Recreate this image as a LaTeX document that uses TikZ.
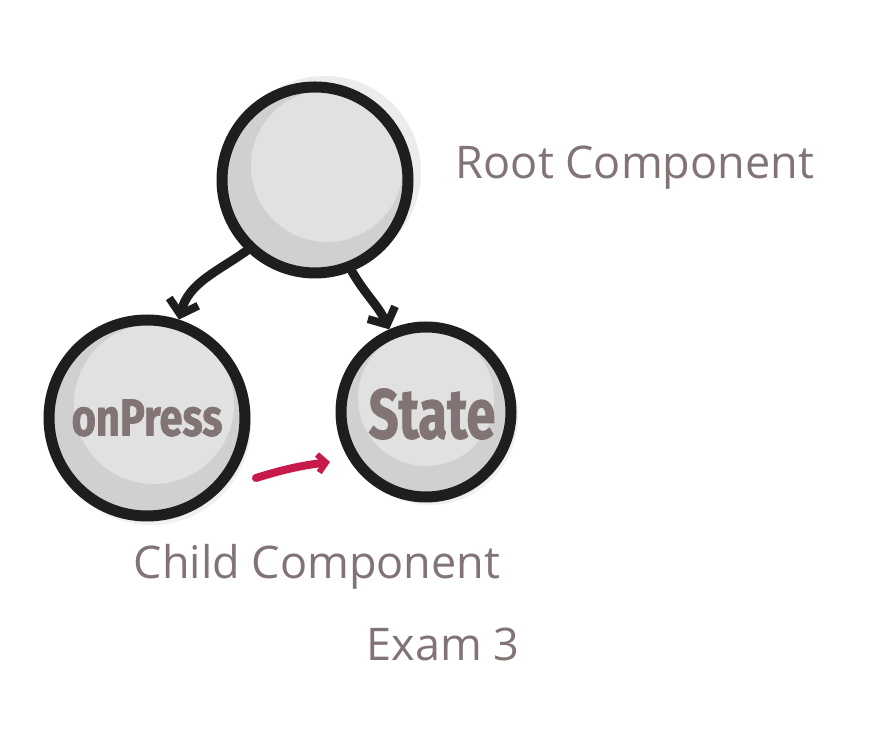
\documentclass[tikz,border=0pt]{standalone}
\usepackage{fontspec}
\setmainfont{Open Sans}
\newfontfamily\heavyfont[BoldFeatures={FakeBold=1.5}]{Fira Sans}
\usepackage{graphicx}
\usetikzlibrary{arrows.meta}
\definecolor{txtgray}{RGB}{130,116,116}
\definecolor{ringblack}{RGB}{30,30,30}
\definecolor{ballgray}{RGB}{225,225,225}
\definecolor{shadegray}{RGB}{208,208,208}
\definecolor{pushred}{RGB}{200,25,75}

\begin{document}
\begin{tikzpicture}[x=1pt,y=1pt,line cap=round,
  ball/.style={circle,draw=ringblack,line width=11pt,inner sep=0pt},
  link/.style={draw=ringblack,line width=9pt,-{Straight Barb[length=13pt,width=30pt,line width=8pt]}},
  caption/.style={text=txtgray,font=\fontsize{45}{50}\selectfont},
  inner/.style={text=txtgray,font=\heavyfont\bfseries}]
\useasboundingbox (0,0) rectangle (873,738);
% soft shadows behind the balls
\fill[gray!15] (325,566) circle (96);
\fill[gray!12] (151,313) circle (100);
\fill[gray!12] (430,321) circle (88);
% shading inside the balls
\fill[shadegray] (315,558) circle (92);
\fill[ballgray] (327,572) circle (76);
\fill[shadegray] (147,320) circle (96);
\fill[ballgray] (154,334) circle (80);
\fill[shadegray] (426,326) circle (84);
\fill[ballgray] (426,340) circle (68);
% the three balls
\node[ball,minimum size=186pt] (root) at (315,558) {};
\node[ball,minimum size=196pt] (press) at (147,320) {};
\node[ball,minimum size=170pt] (state) at (426,326) {};
\node[inner] (presstxt) at (147,320) {\fontsize{52}{56}\selectfont\scalebox{0.8}[1]{onPress}};
\node[inner] (statetxt) at (432,324) {\fontsize{70}{74}\selectfont\scalebox{0.75}[1]{State}};
% links
\draw[link] (root.226) to[out=215,in=75] (press.72);
\draw[link] (root.292) to[out=300,in=115] (state.114);
\coordinate (pushA) at (256,260);
\coordinate (pushB) at (330,276);
\draw[pushred,line width=8pt,-{Straight Barb[length=8pt,width=18pt,line width=6pt]}] (pushA) to[bend left=5] (pushB);
% captions
\node[caption] (rootlbl) at (635,570) {Root Component};
\node[caption] (childlbl) at (317,171) {Child Component};
\node[caption] (examlbl) at (443,94) {Exam 3};
\end{tikzpicture}
\end{document}
